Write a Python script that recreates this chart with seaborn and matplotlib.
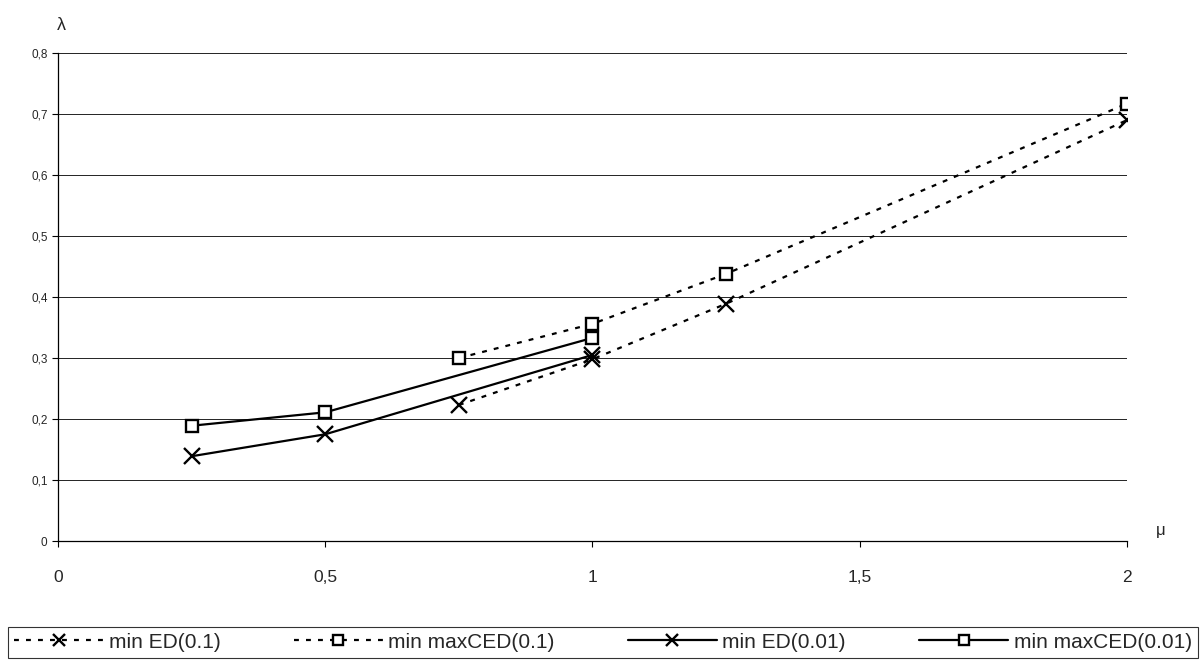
import matplotlib
matplotlib.use('Agg')
import matplotlib.pyplot as plt
import seaborn as sns
import pandas as pd

# dane
mu_01 = [0.75, 1.0, 1.25, 2.0]
ed_01 = [0.223, 0.298, 0.389, 0.690]
maxced_01 = [0.300, 0.356, 0.438, 0.717]

mu_001 = [0.25, 0.5, 1.0]
ed_001 = [0.139, 0.175, 0.305]
maxced_001 = [0.189, 0.211, 0.333]

x_ticks = [0, 0.5, 1, 1.5, 2]
x_labels = ['0', '0,5', '1', '1,5', '2']
y_ticks = [0, 0.1, 0.2, 0.3, 0.4, 0.5, 0.6, 0.7, 0.8]
y_labels = ['0', '0,1', '0,2', '0,3', '0,4', '0,5', '0,6', '0,7', '0,8']

sns.set_style('white')
plt.rcParams['font.family'] = ['Liberation Sans', 'DejaVu Sans']

fig = plt.figure(figsize=(12.04, 6.61), dpi=100)
ax = fig.add_axes([0.0482, 0.1815, 0.8878, 0.7383])

dotted = (0, (2.2, 3.2))
series = [
    (mu_01, ed_01, 'min ED(0.1)', dotted, 'x'),
    (mu_01, maxced_01, 'min maxCED(0.1)', dotted, 's'),
    (mu_001, ed_001, 'min ED(0.01)', '-', 'x'),
    (mu_001, maxced_001, 'min maxCED(0.01)', '-', 's'),
]
for xs, ys, lab, ls, mk in series:
    df = pd.DataFrame({'mu': xs, 'lam': ys})
    sns.lineplot(data=df, x='mu', y='lam', ax=ax, color='black', linestyle=ls,
                 linewidth=1.6, marker=mk, markersize=11 if mk == 'x' else 9,
                 markerfacecolor='white', markeredgecolor='black',
                 markeredgewidth=1.7, label=lab, sort=False, estimator=None)

ax.set_xlim(0, 2)
ax.set_ylim(0, 0.8)
ax.set_xticks(x_ticks)
ax.set_xticklabels(x_labels, fontsize=12.5)
ax.set_yticks(y_ticks)
ax.set_yticklabels(y_labels, fontsize=8.5)
ax.tick_params(axis='both', direction='out', length=4, width=0.8, color='black', left=True, bottom=True)
ax.tick_params(axis='x', pad=17)
ax.yaxis.grid(True, color='black', linewidth=0.6)
ax.xaxis.grid(False)
for s in ['top', 'right']:
    ax.spines[s].set_visible(False)
for s in ['left', 'bottom']:
    ax.spines[s].set_color('black')
    ax.spines[s].set_linewidth(0.9)
ax.set_xlabel('')
ax.set_ylabel('')

fig.text(0.051, 0.962, 'λ', fontsize=13, ha='center', va='center')
fig.text(0.964, 0.197, 'μ', fontsize=12, ha='center', va='center')

handles, labels = ax.get_legend_handles_labels()
ax.get_legend().remove()
leg = fig.legend(handles, labels, loc='lower left',
                 bbox_to_anchor=(8 / 1204, 3 / 661, 1190 / 1204, 34 / 661),
                 mode='expand', ncol=4, fontsize=15, frameon=True, fancybox=False,
                 edgecolor='black', handlelength=4.3, handletextpad=0.25,
                 borderpad=0.3, borderaxespad=0, markerscale=0.75)
leg.get_frame().set_linewidth(0.8)

fig.savefig('out.png', dpi=100)
